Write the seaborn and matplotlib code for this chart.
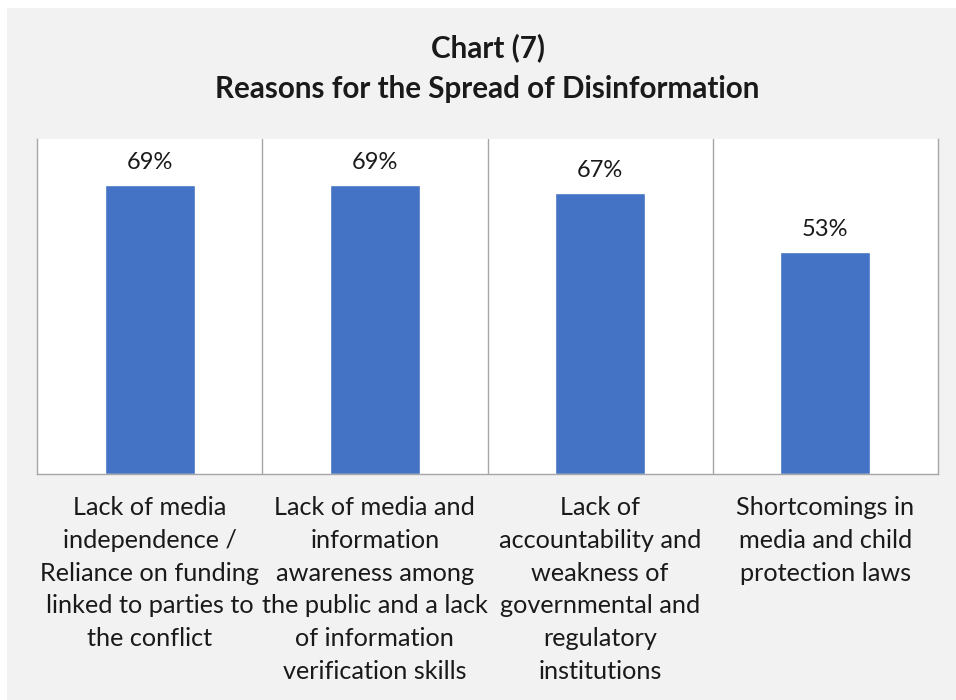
import seaborn as sns
import matplotlib.pyplot as plt
import matplotlib.patches as mpatches
import pandas as pd

# data
categories = [
    "Lack of media\nindependence /\nReliance on funding\nlinked to parties to\nthe conflict",
    "Lack of media and\ninformation\nawareness among\nthe public and a lack\nof information\nverification skills",
    "Lack of\naccountability and\nweakness of\ngovernmental and\nregulatory\ninstitutions",
    "Shortcomings in\nmedia and child\nprotection laws",
]
values = [0.69, 0.69, 0.67, 0.53]
title = "Chart (7)\nReasons for the Spread of Disinformation"

df = pd.DataFrame({"reason": categories, "share": values})

sns.set_theme(style="white")
plt.rcParams['font.family'] = ['Lato', 'DejaVu Sans']

fig = plt.figure(figsize=(9.56, 7), dpi=100, facecolor="white")
# light gray chart panel
fig.patches.append(mpatches.Rectangle((7 / 956, 0), 1, 1 - 8 / 700,
                                      transform=fig.transFigure,
                                      facecolor="#F2F2F2", edgecolor="none", zorder=-10))

ax = fig.add_axes([37 / 956, 1 - 474 / 700, 901 / 956, 335 / 700])
ax.set_zorder(1)
ax.set_facecolor("white")

sns.barplot(data=df, x="reason", y="share", color="#4472C4", width=0.4,
            saturation=1, ax=ax)

ax.bar_label(ax.containers[0], labels=[f"{v:.0%}" for v in values],
             padding=9, fontsize=17, color="#1a1a1a")

ax.set_ylim(0, 0.8)
ax.set_xlim(-0.5, len(categories) - 0.5)
ax.set_yticks([])
ax.set_xlabel("")
ax.set_ylabel("")

# vertical separators between categories
ax.set_xticks([i + 0.5 for i in range(len(categories) - 1)], minor=True)
ax.grid(True, axis="x", which="minor", color="#A6A6A6", linewidth=1)
ax.tick_params(axis="x", which="both", length=0, pad=16, labelsize=18.2,
               labelcolor="#1a1a1a")
for lbl in ax.get_xticklabels():
    lbl.set_verticalalignment("top")
    lbl.set_linespacing(1.51)

for side in ["left", "right", "bottom"]:
    ax.spines[side].set_color("#A6A6A6")
    ax.spines[side].set_linewidth(1)
ax.spines["top"].set_visible(False)

fig.text(0.51, 1 - 68 / 700, title, ha="center", va="center",
         fontsize=21.3, fontweight="bold", linespacing=1.58, color="#1a1a1a")

plt.savefig("out.png", dpi=100, facecolor=fig.get_facecolor())
